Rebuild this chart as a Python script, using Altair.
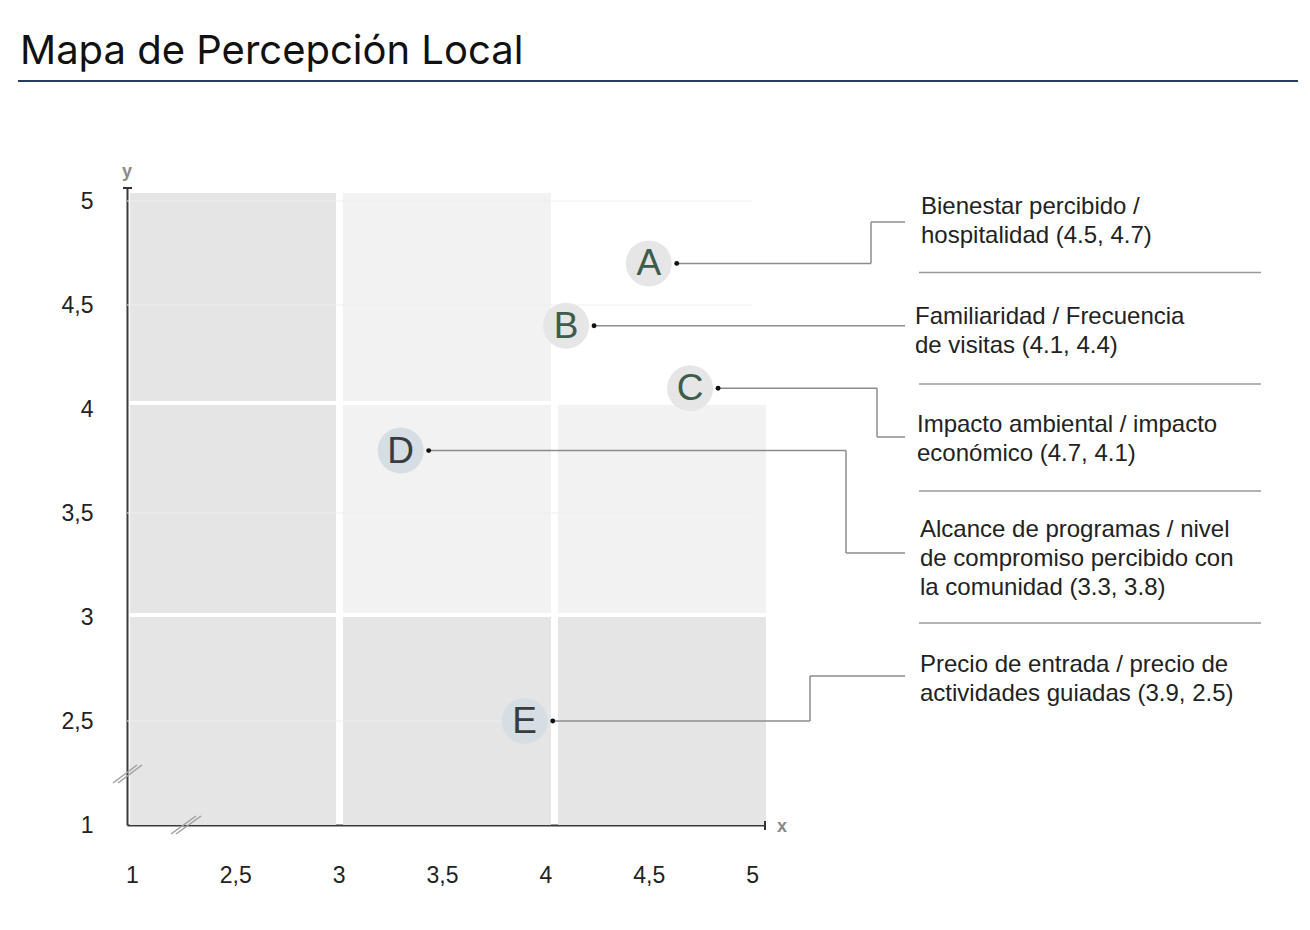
import altair as alt
import pandas as pd

# ---------------- data ----------------
letters = ["A", "B", "C", "D", "E"]
x_values = [4.5, 4.1, 4.7, 3.3, 3.9]
y_values = [4.7, 4.4, 4.1, 3.8, 2.5]
groups = ["verde", "verde", "verde", "gris", "gris"]
descriptions = [
    "Bienestar percibido /\nhospitalidad (4.5, 4.7)",
    "Familiaridad / Frecuencia\nde visitas (4.1, 4.4)",
    "Impacto ambiental / impacto\neconómico (4.7, 4.1)",
    "Alcance de programas / nivel\nde compromiso percibido con\nla comunidad (3.3, 3.8)",
    "Precio de entrada / precio de\nactividades guiadas (3.9, 2.5)",
]
tick_positions = [2, 2.5, 3, 3.5, 4, 4.5, 5]
tick_labels = ["1", "2,5", "3", "3,5", "4", "4,5", "5"]
grid_y = [2.5, 3.5, 4.5, 5]

# background cells (column / row edges in data units, with small gaps)
col_x0 = [1.99, 3.021, 4.061]
col_x1 = [2.987, 4.027, 5.067]
row_y0 = [2.0, 3.019, 4.038]
row_y1 = [3.0, 4.019, 5.038]
cell_tone = {  # (col, row) -> tone ; top-right cell is left blank
    (0, 0): "oscuro", (1, 0): "oscuro", (2, 0): "oscuro",
    (0, 1): "oscuro", (1, 1): "claro", (2, 1): "claro",
    (0, 2): "oscuro", (1, 2): "claro",
}

title_text = "Mapa de Percepción Local"

# ---------------- layout (pixels, relative to plot origin) ----------------
PLOT_W, PLOT_H = 638, 637
LEFT, TOP = 127, 188
leader_bend_x = {"A": 744, "B": None, "C": 750, "D": 719, "E": 683}
leader_label_y = {"A": 34, "B": None, "C": 249, "D": 365, "E": 488}
leader_end_x = 778
label_pos = {"A": (794, 26), "B": (788, 136), "C": (790, 244), "D": (793, 349), "E": (793, 484)}
separator_y = [84.5, 196, 303, 435]

LINE_COLOR = "#8c8c8c"
FONT = "Liberation Sans"

df = pd.DataFrame({
    "letra": letters, "x": x_values, "y": y_values,
    "grupo": groups, "descripcion": descriptions,
})

cells = pd.DataFrame([
    {"x0": col_x0[c], "x1": col_x1[c], "y0": row_y0[r], "y1": row_y1[r], "tono": t}
    for (c, r), t in cell_tone.items()
])

xscale = alt.Scale(domain=[1.976, 5.0625], nice=False, zero=False)
yscale = alt.Scale(domain=[2.0, 5.0625], nice=False, zero=False)

label_expr = " : ".join(
    f"datum.value == {p} ? '{l}'" for p, l in zip(tick_positions, tick_labels)
) + " : ''"

x_axis = alt.Axis(values=tick_positions, labelExpr=label_expr, title=None, grid=False,
                  ticks=False, tickSize=0, domainColor="#3a3a3a", domainWidth=2,
                  labelFont=FONT, labelFontSize=23, labelColor="#222222",
                  labelPadding=50, labelBaseline="middle", labelFlush=False,
                  labelOverlap=False)
y_axis = alt.Axis(values=tick_positions, labelExpr=label_expr, title=None, grid=False,
                  ticks=False, tickSize=0, domainColor="#3a3a3a", domainWidth=2,
                  labelFont=FONT, labelFontSize=23, labelColor="#222222",
                  labelPadding=34, labelAlign="right", labelBaseline="middle",
                  labelFlush=False, labelOverlap=False)

one_row = alt.Data(values=[{"k": 1}])

cell_layer = alt.Chart(cells).mark_rect().encode(
    x=alt.X("x0:Q", scale=xscale, axis=x_axis),
    x2="x1:Q",
    y=alt.Y("y0:Q", scale=yscale, axis=y_axis),
    y2="y1:Q",
    color=alt.condition("datum.tono == 'oscuro'", alt.value("#e5e5e5"), alt.value("#f2f2f2")),
)

grid_layer = alt.Chart(pd.DataFrame({"gy": grid_y, "gx0": 1.976, "gx1": 5.0})).mark_rule(
    color="#eeeeee", strokeWidth=1
).encode(x="gx0:Q", x2="gx1:Q", y="gy:Q")

layers = [cell_layer, grid_layer]

# leader lines
for L in letters:
    base = alt.Chart(df).transform_filter(f"datum.letra == '{L}'")
    bx = leader_bend_x[L]
    if bx is None:
        layers.append(base.mark_rule(color=LINE_COLOR, strokeWidth=1.5, xOffset=28).encode(
            x="x:Q", x2=alt.value(leader_end_x), y="y:Q"))
    else:
        ly = leader_label_y[L]
        layers.append(base.mark_rule(color=LINE_COLOR, strokeWidth=1.5, xOffset=28).encode(
            x="x:Q", x2=alt.value(bx), y="y:Q"))
        layers.append(base.mark_rule(color=LINE_COLOR, strokeWidth=1.5).encode(
            x=alt.value(bx), y="y:Q", y2=alt.value(ly)))
        layers.append(base.mark_rule(color=LINE_COLOR, strokeWidth=1.5).encode(
            x=alt.value(bx), x2=alt.value(leader_end_x), y=alt.value(ly)))

circles = alt.Chart(df).mark_circle(size=2120, opacity=1).encode(
    x="x:Q", y="y:Q",
    color=alt.condition("datum.grupo == 'verde'", alt.value("#e6e6e6"), alt.value("#d6dee3")),
)
dots = alt.Chart(df).mark_circle(size=24, opacity=1, color="#111111", xOffset=28).encode(
    x="x:Q", y="y:Q")
letter_text = alt.Chart(df).mark_text(font=FONT, fontSize=37, baseline="middle", dy=1).encode(
    x="x:Q", y="y:Q", text="letra:N",
    color=alt.condition("datum.grupo == 'verde'", alt.value("#3d5c4b"), alt.value("#383c40")),
)
layers += [circles, dots, letter_text]

# right-hand descriptions
for L in letters:
    tx, ty = label_pos[L]
    layers.append(alt.Chart(df).transform_filter(f"datum.letra == '{L}'").mark_text(
        font=FONT, fontSize=24, align="left", baseline="alphabetic", lineBreak="\n",
        lineHeight=29, color="#222222").encode(
        x=alt.value(tx), y=alt.value(ty), text="descripcion:N"))

for sy in separator_y:
    layers.append(alt.Chart(one_row).mark_rule(color="#9a9a9a", strokeWidth=1.5).encode(
        x=alt.value(792), x2=alt.value(1134), y=alt.value(sy)))

# axis decorations: end caps, break marks, axis names
deco = [
    (-4, 0, 5, 0), (638, 633, 638, 642),
]
for x1, y1, x2, y2 in deco:
    layers.append(alt.Chart(one_row).mark_rule(color="#333333", strokeWidth=2).encode(
        x=alt.value(x1), y=alt.value(y1), x2=alt.value(x2), y2=alt.value(y2)))
breaks = [
    (-14, 595, 10, 577), (-9, 595, 15, 577),
    (44, 646, 69, 628), (49, 646, 74, 628),
]
for x1, y1, x2, y2 in breaks:
    layers.append(alt.Chart(one_row).mark_rule(color="#a0a0a0", strokeWidth=1.5).encode(
        x=alt.value(x1), y=alt.value(y1), x2=alt.value(x2), y2=alt.value(y2)))

layers.append(alt.Chart(alt.Data(values=[{"t": "y"}])).mark_text(
    font=FONT, fontSize=18, fontWeight="bold", color="#8a8a8a", baseline="middle").encode(
    x=alt.value(0), y=alt.value(-16), text="t:N"))
layers.append(alt.Chart(alt.Data(values=[{"t": "x"}])).mark_text(
    font=FONT, fontSize=18, fontWeight="bold", color="#8a8a8a", baseline="middle").encode(
    x=alt.value(655), y=alt.value(639), text="t:N"))

# title and underline
layers.append(alt.Chart(alt.Data(values=[{"t": title_text}])).mark_text(
    font="Inter", fontSize=40, color="#111111", align="left", baseline="alphabetic").encode(
    x=alt.value(-107), y=alt.value(-124), text="t:N"))
layers.append(alt.Chart(one_row).mark_rule(color="#253d5b", strokeWidth=2).encode(
    x=alt.value(-109), x2=alt.value(1171), y=alt.value(-107)))

chart = alt.layer(*layers).properties(
    width=PLOT_W, height=PLOT_H,
    padding={"left": LEFT, "top": TOP, "right": 1310 - LEFT - PLOT_W, "bottom": 930 - TOP - PLOT_H},
    autosize=alt.AutoSizeParams(type="none"),
    background="white",
).configure_view(stroke=None)

chart.save("out.html", embed_options={"renderer": "svg", "actions": False})
